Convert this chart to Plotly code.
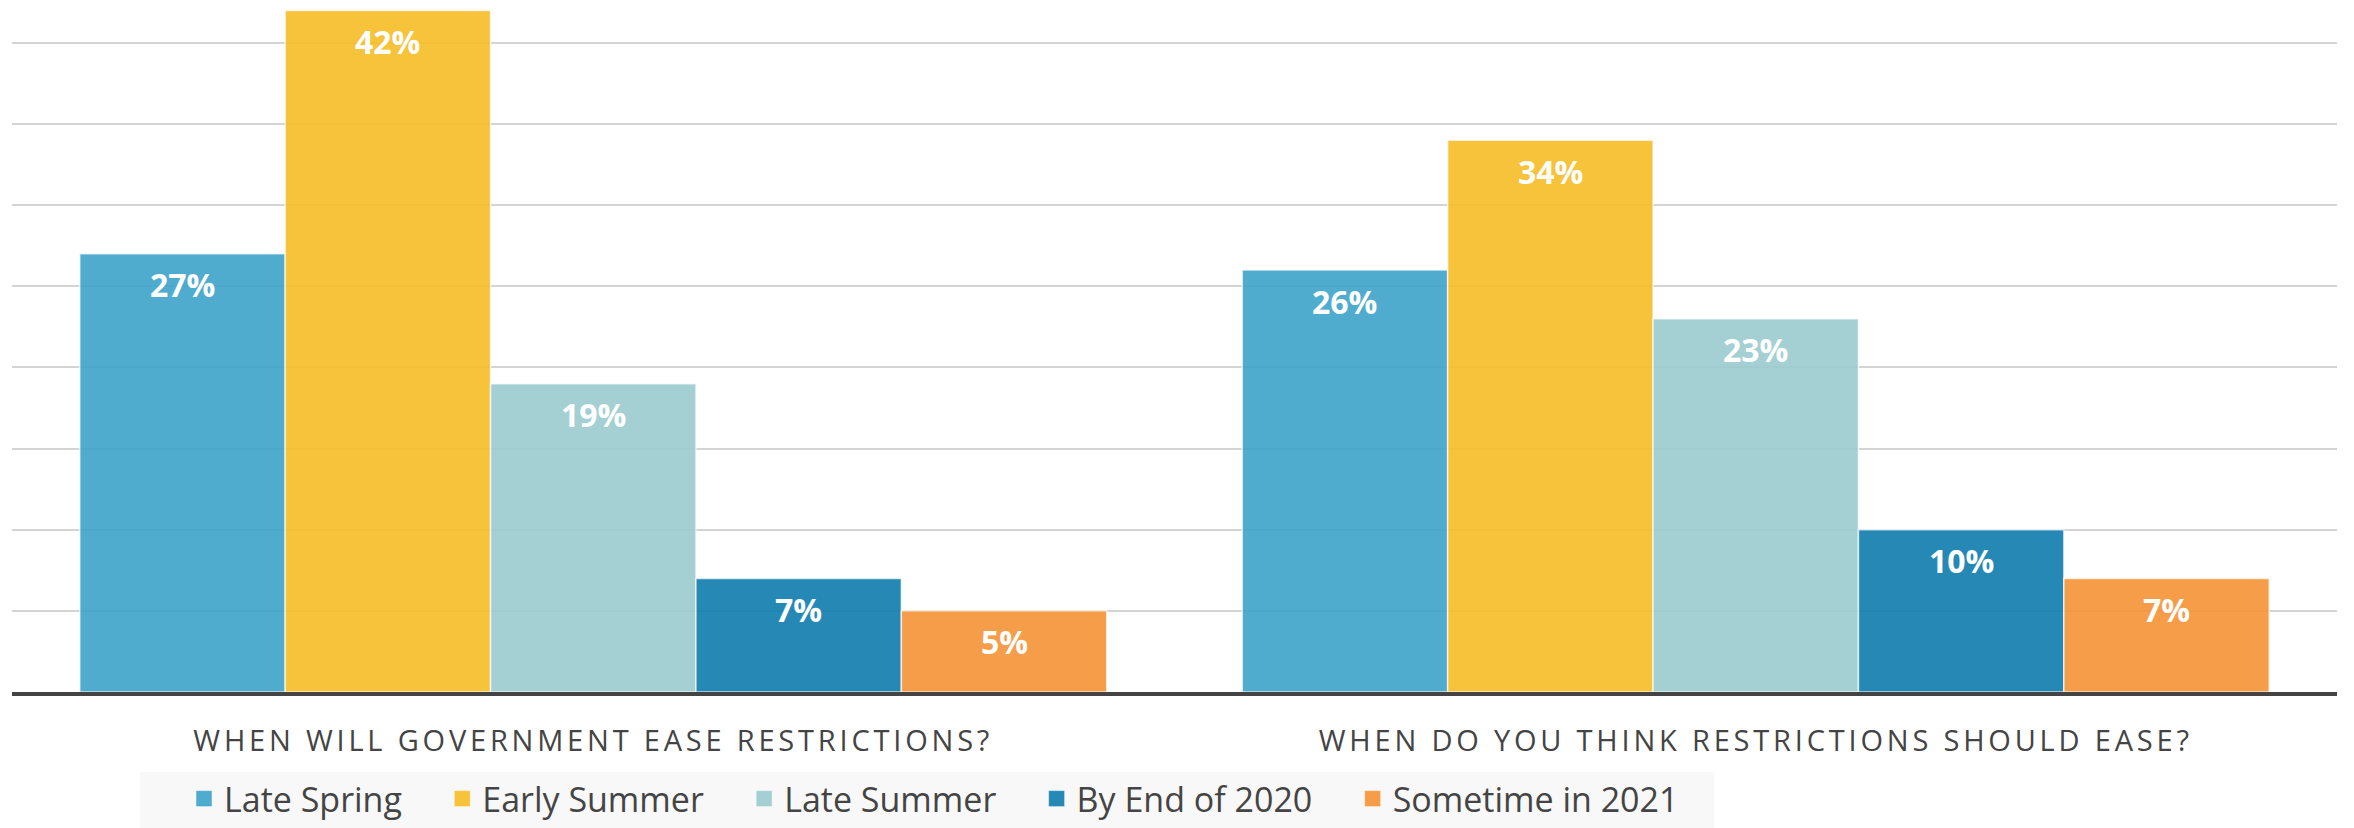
import plotly.graph_objects as go

questions = ["WHEN WILL GOVERNMENT EASE RESTRICTIONS?", "WHEN DO YOU THINK RESTRICTIONS SHOULD EASE?"]
series_names = ["Late Spring", "Early Summer", "Late Summer", "By End of 2020", "Sometime in 2021"]
late_spring = [27, 26]
early_summer = [42, 34]
late_summer = [19, 23]
by_end_2020 = [7, 10]
sometime_2021 = [5, 7]
series_values = [late_spring, early_summer, late_summer, by_end_2020, sometime_2021]
colors = ["rgba(60,163,201,0.9)", "rgba(245,189,38,0.9)", "rgba(154,203,206,0.9)",
          "rgba(14,124,173,0.9)", "rgba(245,146,54,0.9)"]

W, H = 2354, 828
ML, MR, MT, MB = 12, 17, 0, 136
bargap = 0.1166
n = len(series_names)
x_pos = list(range(len(questions)))

fig = go.Figure()
for name, vals, col in zip(series_names, series_values, colors):
    fig.add_trace(go.Bar(
        x=x_pos, y=vals, name=name, legendgroup=name, showlegend=False,
        marker=dict(color=col, line=dict(color="rgba(255,255,255,0.7)", width=1.5)),
        hoverinfo="skip",
    ))
# legend entries (square swatches)
pad = "\u00a0" * 4
for name, col in zip(series_names, colors):
    fig.add_trace(go.Scatter(
        x=[None], y=[None], mode="markers", name=name + pad, legendgroup=name,
        marker=dict(symbol="square", size=16, color=col,
                    line=dict(color="rgba(255,255,255,0.45)", width=1)),
        hoverinfo="skip",
    ))

bw = (1 - bargap) / n
annotations = []
for i, vals in enumerate(series_values):
    for g, v in enumerate(vals):
        annotations.append(dict(
            x=g + (i - (n - 1) / 2) * bw, y=v, xref="x", yref="y",
            text=f"{v}%", showarrow=False, yanchor="middle", yshift=-31,
            font=dict(family="Open Sans", size=32, color="white", weight="bold"),
        ))

ticktext = [f'<span style="letter-spacing:3.8px">{q}</span>' for q in questions]

# legend background panel (pixel positions converted to paper coords)
pw, ph = W - ML - MR, H - MT - MB
def px_x(p):
    return (p - ML) / pw
def px_y(p):
    return (H - MB - p) / ph

shapes = [dict(type="rect", xref="paper", yref="paper",
               x0=px_x(140), x1=px_x(1714), y0=px_y(830), y1=px_y(772),
               fillcolor="#f8f8f8", line=dict(width=0), layer="below")]

fig.update_layout(
    width=W, height=H,
    margin=dict(l=ML, r=MR, t=MT, b=MB),
    paper_bgcolor="white", plot_bgcolor="rgba(0,0,0,0)",
    barmode="group", bargap=bargap, bargroupgap=0,
    font=dict(family="Open Sans", color="#444444"),
    xaxis=dict(
        range=[-0.5, 1.5], tickvals=x_pos, ticktext=ticktext,
        showgrid=False, zeroline=False, ticks="",
        showline=True, linecolor="#444444", linewidth=4,
        tickfont=dict(family="Open Sans", size=29, color="#444444"),
        ticklabelstandoff=20,
    ),
    yaxis=dict(
        range=[0, 42.64], dtick=5, showticklabels=False, ticks="",
        showgrid=True, gridcolor="#d4d4d4", gridwidth=2, zeroline=False,
    ),
    legend=dict(
        orientation="h", xref="container", yref="container",
        x=184 / W, y=(H - 770) / H, xanchor="left", yanchor="top",
        bgcolor="rgba(0,0,0,0)", borderwidth=0,
        font=dict(family="Open Sans", size=34, color="#444444"),
        traceorder="normal", itemsizing="trace",
    ),
    annotations=annotations,
    shapes=shapes,
    showlegend=True,
)

fig.write_html("out.html", config={"displayModeBar": False},
               post_script="document.body.style.margin='0';document.body.style.padding='0';")
